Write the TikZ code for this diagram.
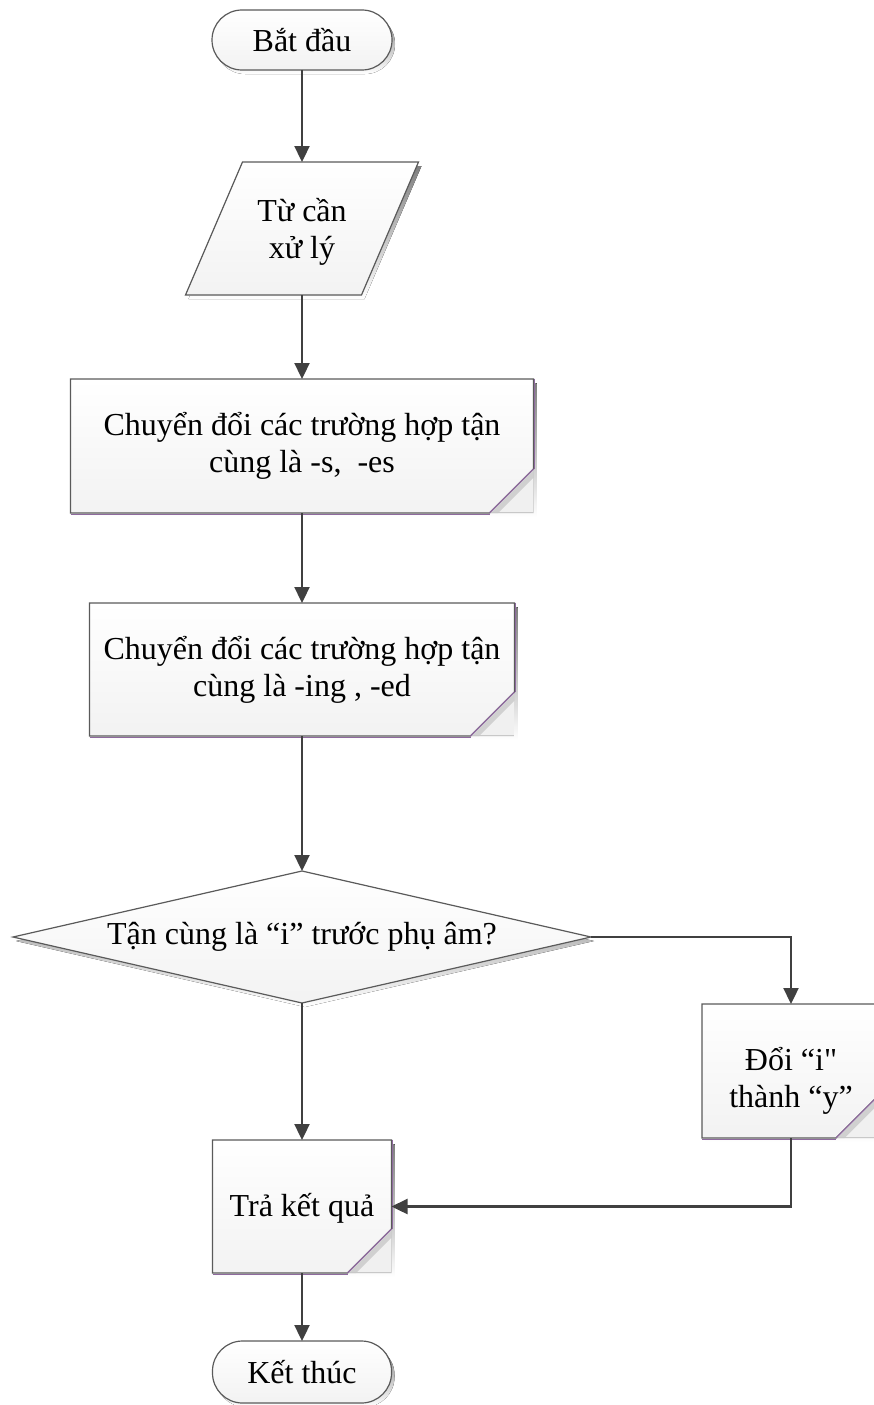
\documentclass[tikz,border=0pt]{standalone}
\usepackage{fontspec}
\newfontfamily\viet{Liberation Serif}
\usetikzlibrary{arrows.meta,calc}
\pgfdeclarelayer{bg}
\pgfsetlayers{bg,main}

\definecolor{edge}{HTML}{5A5A5A}
\definecolor{flow}{HTML}{404040}
\definecolor{rim}{HTML}{8E6A9E}
\definecolor{shade}{HTML}{E2E2E2}
\definecolor{flap}{HTML}{F0F0F0}
\definecolor{flapedge}{HTML}{C8C8C8}
\definecolor{crease}{HTML}{D0D0D0}

\tikzset{
  txt/.style={inner sep=0pt, outer sep=0pt, align=center,
              font=\viet\fontsize{32}{37}\selectfont},
  area/.style 2 args={txt, minimum width=#1, minimum height=#2},
  boxfill/.style={top color=white, bottom color=black!5, draw=edge, line width=1.2pt},
  flowline/.style={draw=flow, line width=2.3pt, line join=miter,
                   -{Triangle[length=16pt,width=15pt]}},
}

% process box with a turned-down lower right corner
\newcommand\foldshape[1]{%
  \begin{pgfonlayer}{bg}
    \fill[shade] ($(#1.north west)+(3,4)$) -- ($(#1.north east)+(3,4)$)
       -- ($(#1.south east)+(3,4)$) -- ($(#1.south west)+(3,4)$) -- cycle;
    \path[boxfill] (#1.north west) -- (#1.north east)
       -- ($(#1.south east)+(0,-44)$) -- ($(#1.south east)+(-44,0)$)
       -- (#1.south west) -- cycle;
    \draw[rim, line width=0.8pt] ($(#1.north east)+(1,0)$) -- ($(#1.south east)+(1,-44)$);
    \draw[rim, line width=0.8pt] ($(#1.south west)+(0,1.2)$) -- ($(#1.south east)+(-44,1.2)$);
    \begin{scope}
      \clip ($(#1.south east)+(0,-44)$) -- (#1.south east) -- ($(#1.south east)+(-44,0)$) -- cycle;
      \fill[flap] ($(#1.south east)+(0,-44)$) -- (#1.south east) -- ($(#1.south east)+(-44,0)$) -- cycle;
      \draw[crease, line width=5pt] ($(#1.south east)+(2.5,-41.5)$) -- ($(#1.south east)+(-41.5,2.5)$);
      \draw[flapedge, line width=1.6pt] ($(#1.south east)+(0,-44)$) -- (#1.south east) -- ($(#1.south east)+(-44,0)$);
    \end{scope}
    \draw[rim, line width=1.2pt] ($(#1.south east)+(0,-44)$) -- ($(#1.south east)+(-44,0)$);
  \end{pgfonlayer}}

% rounded terminal
\newcommand\termshape[1]{%
  \begin{pgfonlayer}{bg}
    \fill[shade, rounded corners=30pt] ($(#1.north west)+(3,4)$) rectangle ($(#1.south east)+(3,4)$);
    \path[boxfill, rounded corners=30pt] (#1.north west) rectangle (#1.south east);
  \end{pgfonlayer}}

\begin{document}
\begin{tikzpicture}[x=1pt, y=-1pt]
  \useasboundingbox (0,0) rectangle (873,1405);

  % labelled areas
  \node[area={180}{60}]  (start) at (302,40)     {Bắt đầu};
  \node[area={176}{133}] (inp)   at (302,228.5)  {};
  \node[txt]             (inptext) at (302,232)  {Từ cần\\xử lý};
  \node[area={463}{134}] (sfx)   at (302,446)    {Chuyển đổi các trường hợp tận\\cùng là -s, \ -es};
  \node[area={425}{133}] (ing)   at (302,669.5)  {Chuyển đổi các trường hợp tận\\cùng là -ing , -ed};
  \node[area={578}{132}] (test)  at (302,937)    {Tận cùng là “i” trước phụ âm?};
  \node[area={178}{134}] (swap)  at (791,1071)   {};
  \node[txt]             (swaptext) at (791,1081) {Đổi “i"\\thành “y”};
  \node[area={179}{133}] (res)   at (302,1206.5) {};
  \node[txt]             (restext) at (302,1208) {Trả kết quả};
  \node[area={179}{62}]  (stop)  at (302,1372)   {Kết thúc};

  % outlines
  \termshape{start}
  \termshape{stop}
  \begin{pgfonlayer}{bg}
    \fill[shade] ($(inp.north west)+(31.5,4)$) -- ($(inp.north east)+(31.5,4)$)
       -- ($(inp.south east)+(-25.5,4)$) -- ($(inp.south west)+(-25.5,4)$) -- cycle;
    \path[boxfill] ($(inp.north west)+(28.5,0)$) -- ($(inp.north east)+(28.5,0)$)
       -- ($(inp.south east)+(-28.5,0)$) -- ($(inp.south west)+(-28.5,0)$) -- cycle;
    \fill[shade] ($(test.north)+(3,4)$) -- ($(test.east)+(3,4)$)
       -- ($(test.south)+(3,4)$) -- ($(test.west)+(3,4)$) -- cycle;
    \path[boxfill] (test.north) -- (test.east) -- (test.south) -- (test.west) -- cycle;
  \end{pgfonlayer}
  \foldshape{sfx}
  \foldshape{ing}
  \foldshape{swap}
  \foldshape{res}

  % connectors
  \draw[flowline] (start.south) -- (inp.north);
  \draw[flowline] (inp.south) -- (sfx.north);
  \draw[flowline] (sfx.south) -- (ing.north);
  \draw[flowline] (ing.south) -- (test.north);
  \draw[flowline] (test.east) -| (swap.north);
  \draw[flowline] (test.south) -- (res.north);
  \draw[flowline] (swap.south) |- (res.east);
  \draw[flowline] (res.south) -- (stop.north);
\end{tikzpicture}
\end{document}
